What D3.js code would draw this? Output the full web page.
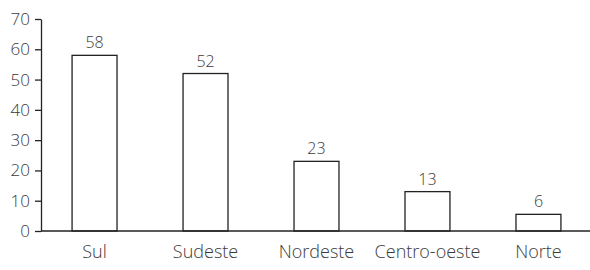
<!DOCTYPE html>
<html>
<head>
<meta charset="utf-8">
<script src="https://cdn.jsdelivr.net/npm/d3@7"></script>
<style>
  body { margin: 0; background: #fff; }
  text { font-family: "Open Sans", sans-serif; font-weight: 300; fill: #3a3a3a; }
</style>
</head>
<body>
<div id="chart"></div>
<script>
// Données
const regioes = ["Sul", "Sudeste", "Nordeste", "Centro-oeste", "Norte"];
const valores = [58, 52, 23, 13, 5.5];
const yTicks = [0, 10, 20, 30, 40, 50, 60, 70];

const width = 590, height = 270;

const svg = d3.select("#chart")
    .append("svg")
    .attr("width", width)
    .attr("height", height);

// Échelles
const x = d3.scaleBand()
    .domain(regioes)
    .range([41, 592])
    .paddingInner(0.595)
    .paddingOuter(0.28);

const y = d3.scaleLinear()
    .domain([0, 70])
    .range([231, 19]);

// Barres
svg.append("g")
    .selectAll("rect")
    .data(valores)
    .enter()
    .append("rect")
    .attr("x", (d, i) => x(regioes[i]))
    .attr("y", d => y(d))
    .attr("width", x.bandwidth())
    .attr("height", d => y(0) - y(d))
    .attr("fill", "#fff")
    .attr("stroke", "#222")
    .attr("stroke-width", 1.3);

// Étiquettes des valeurs
svg.append("g")
    .selectAll("text")
    .data(valores)
    .enter()
    .append("text")
    .attr("x", (d, i) => x(regioes[i]) + x.bandwidth() / 2)
    .attr("y", d => y(d) - 7)
    .attr("text-anchor", "middle")
    .style("font-size", "16px")
    .text(d => d.toFixed(0));

// Axe Y
const yAxis = svg.append("g")
    .attr("transform", "translate(41,0)")
    .call(d3.axisLeft(y).tickValues(yTicks).tickSize(6).tickSizeOuter(0).tickPadding(5));
yAxis.select(".domain").attr("stroke", "#222").attr("stroke-width", 1.3);
yAxis.selectAll(".tick line").attr("stroke", "#222").attr("stroke-width", 1.3);
yAxis.selectAll(".tick text")
    .style("font-size", "17px")
    .style("font-family", "'Open Sans', sans-serif")
    .attr("fill", "#3a3a3a");

// Axe X
const xAxis = svg.append("g")
    .attr("transform", "translate(0,231)")
    .call(d3.axisBottom(x).tickSize(0).tickPadding(14));
xAxis.select(".domain").attr("stroke", "#222").attr("stroke-width", 1.3)
    .attr("d", "M41,0H590");
xAxis.selectAll(".tick text")
    .style("font-size", "18px")
    .style("font-family", "'Open Sans', sans-serif")
    .attr("fill", "#3a3a3a");
</script>
</body>
</html>
